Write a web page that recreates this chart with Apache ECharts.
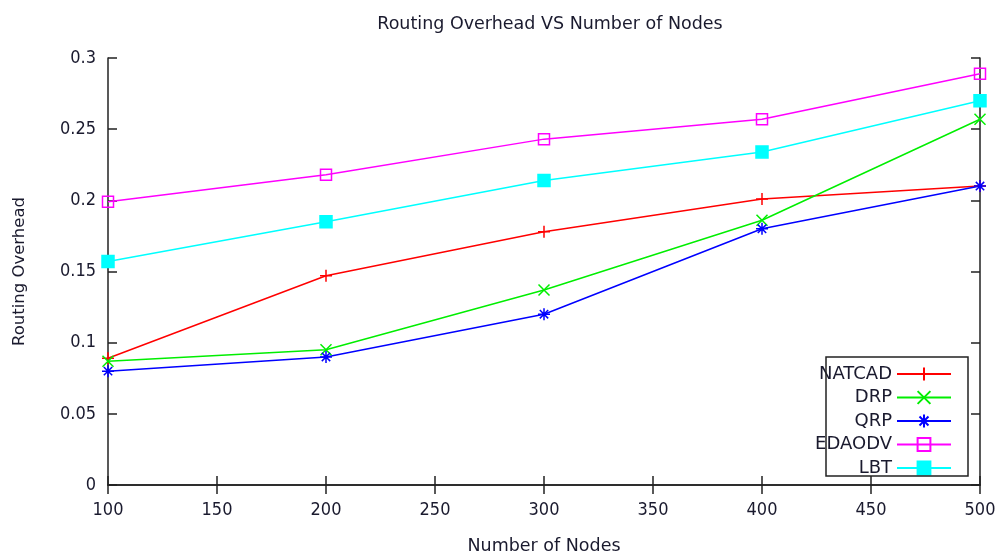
<!DOCTYPE html>
<html><head><meta charset="utf-8">
<script src="https://cdn.jsdelivr.net/npm/echarts@6/dist/echarts.min.js"></script>
<style>html,body{margin:0;padding:0;background:#fff}#c{width:1001px;height:557px}</style>
</head><body><div id="c"></div>
<script>
var nodes = [100, 200, 300, 400, 500];
var natcad = [0.089, 0.147, 0.178, 0.201, 0.210];
var drp    = [0.087, 0.095, 0.137, 0.186, 0.257];
var qrp    = [0.080, 0.090, 0.120, 0.180, 0.210];
var edaodv = [0.199, 0.218, 0.243, 0.257, 0.289];
var lbt    = [0.157, 0.185, 0.214, 0.234, 0.270];
var seriesNames = ['NATCAD', 'DRP', 'QRP', 'EDAODV', 'LBT'];

var FC = '"DejaVu Sans Condensed", "DejaVu Sans", sans-serif';
var F = '"DejaVu Sans", sans-serif';
var TXT = '#1a1a2e';
function pts(v){ return nodes.map(function(x,i){ return [x, v[i]]; }); }
var symPlus = 'path://M5,0L5,10M0,5L10,5';
var symX = 'path://M0,0L10,10M0,10L10,0';
var symStar = 'path://M5,0L5,10M0,5L10,5M1.5,1.5L8.5,8.5M1.5,8.5L8.5,1.5';
var symSq = 'path://M0,0L10,0L10,10L0,10Z';

function mk(name, data, color, sym, size, fill){
  return {
    name: name, type: 'line', data: pts(data),
    symbol: sym, symbolSize: size, showAllSymbol: true,
    lineStyle: { color: color, width: 1.5 },
    itemStyle: { color: fill, borderColor: color, borderWidth: 1.5 },
    emphasis: { disabled: true }, animation: false
  };
}

var chart = echarts.init(document.getElementById('c'));
chart.setOption({
  animation: false,
  title: { text: 'Routing Overhead VS Number of Nodes', left: 545, top: 10, textAlign: 'center',
    textStyle: { fontFamily: F, fontSize: 17.5, fontWeight: 'normal', color: TXT } },
  grid: { left: 108, right: 21, top: 58, bottom: 72, outerBoundsMode: 'none' },
  legend: {
    orient: 'vertical', align: 'right', right: 44, top: 360,
    itemWidth: 54, itemHeight: 16, itemGap: 5.5,
    textStyle: { fontFamily: F, fontSize: 18, color: TXT },
    data: seriesNames
  },
  graphic: [{ type: 'rect', shape: { x: 826, y: 357, width: 142, height: 119 },
    style: { fill: 'none', stroke: '#222', lineWidth: 1.5 }, z: 100, silent: true }],
  xAxis: [{
    type: 'value', min: 100, max: 500, interval: 50,
    name: 'Number of Nodes', nameLocation: 'middle', nameGap: 52,
    nameTextStyle: { fontFamily: F, fontSize: 17.5, color: TXT },
    axisLine: { lineStyle: { color: '#222', width: 1.5 } },
    axisTick: { inside: true, length: 9, lineStyle: { color: '#222', width: 1.5 } },
    axisLabel: { fontFamily: FC, fontSize: 18, color: TXT, margin: 16 },
    splitLine: { show: false }
  }, {
    type: 'value', position: 'top', min: 100, max: 500, interval: 50,
    axisLine: { lineStyle: { color: '#222', width: 1.5 } },
    axisTick: { inside: true, length: 9, lineStyle: { color: '#222', width: 1.5 } },
    axisLabel: { show: false }, splitLine: { show: false }
  }],
  yAxis: [{
    type: 'value', min: 0, max: 0.3, interval: 0.05,
    name: 'Routing Overhead', nameLocation: 'middle', nameGap: 80, nameRotate: 90,
    nameTextStyle: { fontFamily: F, fontSize: 16.5, color: TXT },
    axisLine: { show: true, lineStyle: { color: '#222', width: 1.5 } },
    axisTick: { show: true, inside: true, length: 9, lineStyle: { color: '#222', width: 1.5 } },
    axisLabel: { fontFamily: FC, fontSize: 18, color: TXT, margin: 12 },
    splitLine: { show: false }
  }, {
    type: 'value', position: 'right', min: 0, max: 0.3, interval: 0.05,
    axisLine: { show: true, lineStyle: { color: '#222', width: 1.5 } },
    axisTick: { show: true, inside: true, length: 9, lineStyle: { color: '#222', width: 1.5 } },
    axisLabel: { show: false }, splitLine: { show: false }
  }],
  series: [
    mk('NATCAD', natcad, '#ff0000', symPlus, 12, '#ff0000'),
    mk('DRP', drp, '#00ee00', symX, 11, '#00ee00'),
    mk('QRP', qrp, '#0000ff', symStar, 12, '#0000ff'),
    mk('EDAODV', edaodv, '#ff00ff', symSq, 11, 'rgba(255,255,255,0)'),
    mk('LBT', lbt, '#00ffff', symSq, 12, '#00ffff')
  ]
});
</script></body></html>
